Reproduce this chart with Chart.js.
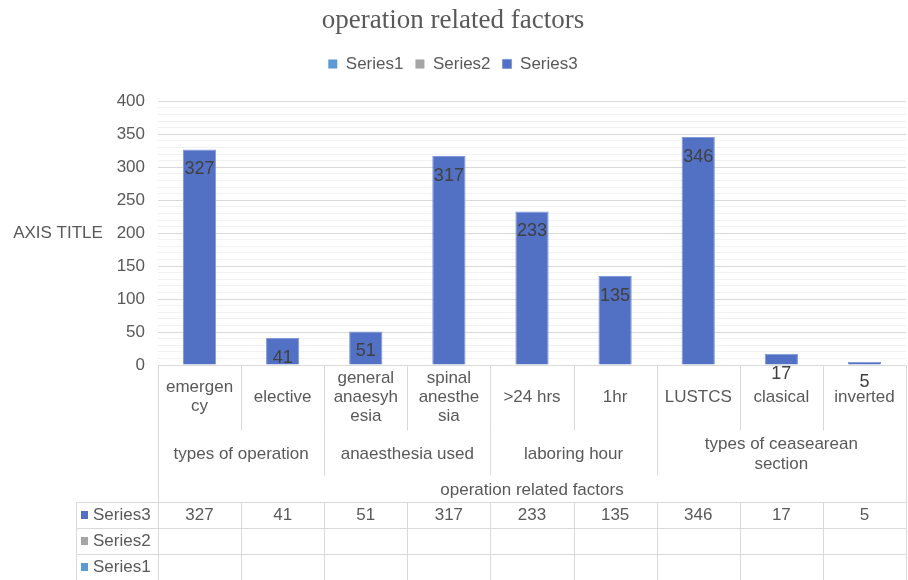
<!DOCTYPE html>
<html>
<head>
<meta charset="utf-8">
<script src="https://cdn.jsdelivr.net/npm/chart.js@4.4.0/dist/chart.umd.min.js"></script>
<style>
html,body{margin:0;padding:0;background:#fff}
#wrap{width:908px;height:580px;position:relative}
</style>
</head>
<body>
<div id="wrap"><canvas id="myChart"></canvas></div>
<script>
// data
const categories = [['emergen','cy'], ['elective'], ['general','anaesyh','esia'], ['spinal','anesthe','sia'],
    ['>24 hrs'], ['1hr'], ['LUSTCS'], ['clasical'], ['inverted']];
const groupLabels = [['types of operation'], ['anaesthesia used'], ['laboring hour'], ['types of ceasearean','section']];
const groupSizes = [2, 2, 2, 3];
const outerLabel = 'operation related factors';
const seriesNames = ['Series1', 'Series2', 'Series3'];
const series1 = [];
const series2 = [];
const series3 = [327, 41, 51, 317, 233, 135, 346, 17, 5];
const yMax = 400;
const yMajorStep = 50;
const yMinorStep = 10;

const colors = ['#5B9BD5', '#A5A5A5', '#5271C4'];
const textColor = '#595959';
const lineColor = '#d9d9d9';
const FONT = "'Liberation Sans', Arial, sans-serif";

const legendMargin = {
    id: 'legendMargin',
    beforeInit(chart) {
        const fit = chart.legend.fit;
        chart.legend.fit = function () {
            fit.bind(chart.legend)();
            this.height += 19;
        };
    }
};

// labels in the bars
const barLabels = {
    id: 'barLabels',
    afterDatasetsDraw(chart) {
        const ctx = chart.ctx;
        const meta = chart.getDatasetMeta(2);
        ctx.save();
        ctx.font = '18px ' + FONT;
        ctx.fillStyle = '#404040';
        ctx.textAlign = 'center';
        ctx.textBaseline = 'middle';
        meta.data.forEach((bar, i) => {
            ctx.fillText(String(series3[i]), bar.x, bar.y + 20);
        });
        ctx.restore();
    }
};

// multi level category labels, axis title and data table
const tableDraw = {
    id: 'tableDraw',
    afterDraw(chart) {
        const ctx = chart.ctx;
        const area = chart.chartArea;
        const x = chart.scales.x;
        const n = categories.length;
        const w = (area.right - area.left) / n;
        const edge = i => area.left + i * w;
        const b = area.bottom;
        const catBottom = b + 65, groupBottom = b + 110, tableTop = b + 137, rowH = 26;
        const tableLeft = 76;

        ctx.save();
        // y axis title
        ctx.font = '17px ' + FONT;
        ctx.fillStyle = textColor;
        ctx.textAlign = 'center';
        ctx.textBaseline = 'middle';
        ctx.fillText('AXIS TITLE', 58, (area.top + area.bottom) / 2);

        // lines
        ctx.strokeStyle = lineColor;
        ctx.lineWidth = 1;
        const line = (x1, y1, x2, y2) => {
            ctx.beginPath();
            ctx.moveTo(Math.round(x1) + 0.5, Math.round(y1) + 0.5);
            ctx.lineTo(Math.round(x2) + 0.5, Math.round(y2) + 0.5);
            ctx.stroke();
        };
        for (let i = 0; i <= n; i++) {
            line(edge(i), b, edge(i), catBottom);
        }
        let acc = 0;
        const groupEdges = [0];
        groupSizes.forEach(s => { acc += s; groupEdges.push(acc); });
        groupEdges.forEach(g => line(edge(g), catBottom, edge(g), groupBottom));
        line(edge(0), groupBottom, edge(0), tableTop);
        line(edge(n), groupBottom, edge(n), tableTop);
        // table grid
        for (let r = 0; r <= 3; r++) {
            line(tableLeft, tableTop + r * rowH, edge(n), tableTop + r * rowH);
        }
        line(tableLeft, tableTop, tableLeft, tableTop + 3 * rowH);
        for (let i = 0; i <= n; i++) {
            line(edge(i), tableTop, edge(i), tableTop + 3 * rowH);
        }

        // category labels
        ctx.font = '17px ' + FONT;
        ctx.fillStyle = textColor;
        const catMid = b + 32;
        categories.forEach((lines, i) => {
            const cx = x.getPixelForValue(i);
            lines.forEach((t, k) => {
                ctx.fillText(t, cx, catMid + (k - (lines.length - 1) / 2) * 19);
            });
        });
        // group labels
        const groupMid = catBottom + 24;
        groupLabels.forEach((lines, g) => {
            const cx = (edge(groupEdges[g]) + edge(groupEdges[g + 1])) / 2;
            lines.forEach((t, k) => {
                ctx.fillText(t, cx, groupMid + (k - (lines.length - 1) / 2) * 20);
            });
        });
        // outer label
        ctx.fillText(outerLabel, (area.left + area.right) / 2, groupBottom + 15);

        // table rows
        const rows = [[seriesNames[2], series3, colors[2]], [seriesNames[1], series2, colors[1]], [seriesNames[0], series1, colors[0]]];
        rows.forEach((row, r) => {
            const cy = tableTop + r * rowH + rowH / 2;
            ctx.fillStyle = row[2];
            ctx.fillRect(81, cy - 4, 7, 8);
            ctx.fillStyle = textColor;
            ctx.textAlign = 'left';
            ctx.fillText(row[0], 93, cy);
            ctx.textAlign = 'center';
            row[1].forEach((v, i) => {
                if (v !== null && v !== undefined) ctx.fillText(String(v), x.getPixelForValue(i), cy);
            });
        });
        ctx.restore();
    }
};

const ctx = document.getElementById('myChart').getContext('2d');
const myChart = new Chart(ctx, {
    type: 'bar',
    data: {
        labels: categories,
        datasets: [
            { label: seriesNames[0], data: series1, backgroundColor: colors[0], skipNull: true },
            { label: seriesNames[1], data: series2, backgroundColor: colors[1], skipNull: true },
            { label: seriesNames[2], data: series3, backgroundColor: colors[2], borderColor: '#8097d8', borderWidth: 1, skipNull: true }
        ]
    },
    options: {
        responsive: true,
        maintainAspectRatio: false,
        animation: false,
        layout: { padding: { left: 0, right: 2, top: 0, bottom: 215 } },
        datasets: { bar: { categoryPercentage: 1, barPercentage: 0.4 } },
        plugins: {
            title: {
                display: true,
                text: 'operation related factors',
                color: textColor,
                font: { family: "'Liberation Serif', 'Times New Roman', serif", size: 27, weight: 'normal' },
                padding: { top: 5, bottom: 6 }
            },
            legend: {
                display: true,
                labels: {
                    color: textColor,
                    font: { family: FONT, size: 17 },
                    boxWidth: 9,
                    boxHeight: 9,
                    padding: 12
                }
            },
            tooltip: { enabled: false }
        },
        scales: {
            x: {
                display: false,
                grid: { display: false }
            },
            y: {
                min: 0,
                max: yMax,
                afterFit: s => { s.width = 158; },
                border: { display: false },
                grid: {
                    color: c => (c.tick && c.tick.value % yMajorStep === 0) ? lineColor : '#f2f2f2',
                    drawTicks: false
                },
                ticks: {
                    stepSize: yMinorStep,
                    autoSkip: false,
                    color: textColor,
                    padding: 13,
                    font: { family: FONT, size: 17 },
                    callback: v => (v % yMajorStep === 0 ? v : '')
                }
            }
        }
    },
    plugins: [legendMargin, barLabels, tableDraw]
});
</script>
</body>
</html>
